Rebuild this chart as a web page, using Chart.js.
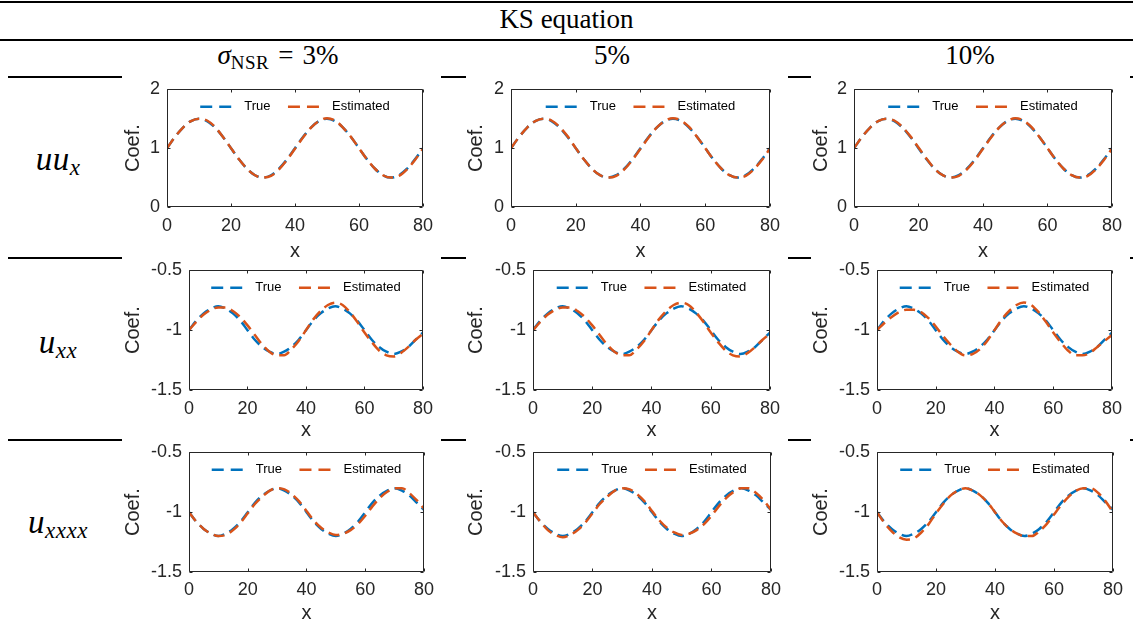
<!DOCTYPE html>
<html>
<head>
<meta charset="utf-8">
<script src="https://cdn.jsdelivr.net/npm/chart.js@4.4.1/dist/chart.umd.min.js"></script>
<style>
  html, body { margin: 0; padding: 0; background: #fff; }
  #page { position: relative; width: 1133px; height: 621px; overflow: hidden; background: #fff; }
  .rule { position: absolute; left: 0; width: 1133px; height: 2px; background: #000; }
  .txt { position: absolute; font-family: "Liberation Serif", "Times New Roman", serif; color: #000; white-space: nowrap; }
  .it { font-style: italic; }
  .cell { position: absolute; background: #fff; }
  .cell canvas { display: block; }
</style>
</head>
<body>
<div id="page">
  <div class="rule" style="top:1px"></div>
  <div class="txt" style="left:0; width:1133px; text-align:center; top:6px; font-size:27px; line-height:27px;">KS equation</div>
  <div class="rule" style="top:39px"></div>

  <div class="txt" style="left:128px; width:300px; text-align:center; top:42px; font-size:27px; line-height:27px;"><span class="it">σ</span><span style="font-size:19px; letter-spacing:0.5px; position:relative; top:5px;">NSR</span><span style="margin:0 9px;">=</span>3%</div>
  <div class="txt" style="left:462px; width:300px; text-align:center; top:42px; font-size:27px; line-height:27px;">5%</div>
  <div class="txt" style="left:820px; width:300px; text-align:center; top:42px; font-size:27px; line-height:27px;">10%</div>

  <div class="rule" style="top:76px; left:8px; width:1125px"></div>
  <div class="rule" style="top:257px; left:8px; width:1125px"></div>
  <div class="rule" style="top:439px; left:8px; width:1125px"></div>

  <div class="txt it" style="left:0; width:116px; text-align:center; top:143px; font-size:33px; line-height:33px; letter-spacing:0.5px;">uu<span style="font-size:23px; position:relative; top:5px;">x</span></div>
  <div class="txt it" style="left:0; width:116px; text-align:center; top:326px; font-size:33px; line-height:33px; letter-spacing:0.5px;">u<span style="font-size:23px; position:relative; top:5px;">xx</span></div>
  <div class="txt it" style="left:0; width:116px; text-align:center; top:506px; font-size:33px; line-height:33px; letter-spacing:0.5px;">u<span style="font-size:23px; position:relative; top:5px;">xxxx</span></div>
</div>

<script>
// sample positions along x
const xs = [0, 2.5, 5, 7.5, 10, 12.5, 15, 17.5, 20, 22.5, 25, 27.5, 30, 32.5, 35, 37.5,
            40, 42.5, 45, 47.5, 50, 52.5, 55, 57.5, 60, 62.5, 65, 67.5, 70, 72.5, 75, 77.5, 80];

// uu_x coefficient
const trueUUx = [1.00, 1.19, 1.35, 1.46, 1.50, 1.46, 1.35, 1.19, 1.00, 0.81, 0.65, 0.54, 0.50, 0.54, 0.65, 0.81,
                 1.00, 1.19, 1.35, 1.46, 1.50, 1.46, 1.35, 1.19, 1.00, 0.81, 0.65, 0.54, 0.50, 0.54, 0.65, 0.81, 1.00];
const estUUx3 = [1.00, 1.19, 1.35, 1.46, 1.50, 1.47, 1.36, 1.19, 1.00, 0.81, 0.65, 0.54, 0.50, 0.53, 0.64, 0.80,
                 0.99, 1.18, 1.35, 1.46, 1.51, 1.47, 1.35, 1.19, 1.00, 0.81, 0.65, 0.54, 0.50, 0.53, 0.64, 0.80, 0.99];
const estUUx5 = [1.00, 1.19, 1.35, 1.46, 1.50, 1.47, 1.36, 1.20, 1.00, 0.81, 0.65, 0.54, 0.50, 0.53, 0.64, 0.80,
                 0.99, 1.18, 1.35, 1.46, 1.51, 1.47, 1.36, 1.19, 1.00, 0.81, 0.65, 0.54, 0.50, 0.53, 0.64, 0.80, 0.99];
const estUUx10 = [1.00, 1.19, 1.35, 1.46, 1.50, 1.47, 1.36, 1.20, 1.01, 0.82, 0.65, 0.54, 0.50, 0.53, 0.64, 0.80,
                  0.99, 1.18, 1.35, 1.46, 1.51, 1.47, 1.36, 1.19, 1.00, 0.81, 0.65, 0.54, 0.50, 0.53, 0.64, 0.80, 0.99];

// u_xx coefficient
const trueUxx = [-1.00, -0.92, -0.86, -0.82, -0.80, -0.82, -0.86, -0.92, -1.00, -1.08, -1.14, -1.18, -1.20, -1.18, -1.14, -1.08,
                 -1.00, -0.92, -0.86, -0.82, -0.80, -0.82, -0.86, -0.92, -1.00, -1.08, -1.14, -1.18, -1.20, -1.18, -1.14, -1.08, -1.02];
const estUxx3 = [-1.00, -0.93, -0.87, -0.83, -0.81, -0.81, -0.84, -0.89, -0.96, -1.04, -1.12, -1.18, -1.21, -1.21, -1.16, -1.09,
                 -1.00, -0.91, -0.84, -0.79, -0.77, -0.79, -0.85, -0.93, -1.02, -1.10, -1.17, -1.21, -1.22, -1.19, -1.14, -1.08, -1.03];
const estUxx5 = [-1.00, -0.93, -0.87, -0.83, -0.81, -0.81, -0.84, -0.89, -0.96, -1.04, -1.12, -1.18, -1.21, -1.21, -1.16, -1.09,
                 -1.00, -0.91, -0.84, -0.79, -0.77, -0.79, -0.85, -0.93, -1.02, -1.10, -1.17, -1.21, -1.22, -1.19, -1.14, -1.08, -1.03];
const estUxx10 = [-1.00, -0.94, -0.89, -0.85, -0.83, -0.83, -0.85, -0.90, -0.97, -1.05, -1.12, -1.18, -1.21, -1.20, -1.16, -1.09,
                  -1.00, -0.91, -0.84, -0.79, -0.77, -0.79, -0.85, -0.93, -1.02, -1.10, -1.17, -1.21, -1.21, -1.19, -1.14, -1.09, -1.04];

// u_xxxx coefficient
const trueUxxxx = [-1.00, -1.08, -1.14, -1.18, -1.20, -1.18, -1.14, -1.08, -1.00, -0.92, -0.86, -0.82, -0.80, -0.82, -0.86, -0.92,
                   -1.00, -1.08, -1.14, -1.18, -1.20, -1.18, -1.14, -1.08, -1.00, -0.92, -0.86, -0.82, -0.80, -0.82, -0.86, -0.92, -0.98];
const estUxxxx3 = [-1.00, -1.08, -1.14, -1.18, -1.20, -1.19, -1.15, -1.09, -1.01, -0.93, -0.87, -0.82, -0.80, -0.81, -0.85, -0.91,
                   -0.99, -1.07, -1.13, -1.17, -1.19, -1.18, -1.15, -1.10, -1.03, -0.95, -0.88, -0.83, -0.80, -0.80, -0.84, -0.90, -0.97];
const estUxxxx5 = [-1.00, -1.08, -1.15, -1.19, -1.21, -1.19, -1.15, -1.09, -1.01, -0.93, -0.87, -0.82, -0.80, -0.81, -0.85, -0.91,
                   -0.99, -1.07, -1.13, -1.17, -1.19, -1.18, -1.15, -1.10, -1.03, -0.95, -0.88, -0.83, -0.80, -0.80, -0.84, -0.90, -0.98];
const estUxxxx10 = [-1.00, -1.09, -1.16, -1.21, -1.23, -1.22, -1.17, -1.10, -1.01, -0.93, -0.86, -0.82, -0.80, -0.82, -0.86, -0.92,
                    -1.00, -1.08, -1.14, -1.18, -1.20, -1.20, -1.16, -1.10, -1.02, -0.94, -0.87, -0.82, -0.80, -0.80, -0.84, -0.91, -1.00];

const seriesNames = ['True', 'Estimated'];
const xTicks = [0, 20, 40, 60, 80];
const xTickLabels = ['0', '20', '40', '60', '80'];
const yTicksUUx = [0, 1, 2];
const yTickLabelsUUx = ['0', '1', '2'];
const yTicksNeg = [-1.5, -1, -0.5];
const yTickLabelsNeg = ['-1.5', '-1', '-0.5'];

const BLUE = '#0072BD';
const ORANGE = '#D95319';
const AXIS = '#262626';
const SANS = '"Liberation Sans", Arial, Helvetica, sans-serif';
const LINE_WIDTH = 2.5;
const DASH = [11, 6];
const LEGEND_DASH = [12, 7];

// box frame with inward tick marks on all four sides
const boxTicks = {
  id: 'boxTicks',
  afterDatasetsDraw(chart) {
    const { ctx, chartArea: a, scales } = chart;
    const L = Math.round(a.left) + 0.5, R = Math.round(a.right) - 0.5;
    const T = Math.round(a.top) + 0.5, B = Math.round(a.bottom) - 0.5;
    const len = 3;
    ctx.save();
    ctx.strokeStyle = AXIS;
    ctx.lineWidth = 1;
    ctx.setLineDash([]);
    ctx.beginPath();
    ctx.rect(L, T, R - L, B - T);
    scales.x.ticks.forEach(t => {
      const p = Math.round(scales.x.getPixelForValue(t.value)) + 0.5;
      ctx.moveTo(p, B); ctx.lineTo(p, B - len);
      ctx.moveTo(p, T); ctx.lineTo(p, T + len);
    });
    scales.y.ticks.forEach(t => {
      const p = Math.round(scales.y.getPixelForValue(t.value)) + 0.5;
      ctx.moveTo(L, p); ctx.lineTo(L + len, p);
      ctx.moveTo(R, p); ctx.lineTo(R - len, p);
    });
    ctx.stroke();
    ctx.restore();
  }
};

// the legend takes no layout height; let it draw over the top of the plot box
const legendInside = {
  id: 'legendInside',
  afterLayout(chart) {
    const lg = chart.legend;
    if (lg) {
      lg.bottom = chart.chartArea.bottom;
      lg.height = lg.bottom - lg.top;
    }
  }
};

// cell geometry: columns and rows of the table
const columns = [
  { left: 122, width: 319, areaRight: 427, areaLeftNarrow: 167, areaLeftWide: 189, titleX: 133.5 },
  { left: 466, width: 322, areaRight: 771, areaLeftNarrow: 511, areaLeftWide: 533, titleX: 476.5 },
  { left: 811, width: 319, areaRight: 1114, areaLeftNarrow: 854, areaLeftWide: 877, titleX: 821.5 }
];
const rows = [
  { top: 76,  areaTop: 84,  areaBottom: 207, titleMid: 251, tickPad: 8, wide: false, z: 1 },
  { top: 257, areaTop: 266, areaBottom: 390, titleMid: 430, tickPad: 8, wide: true,  z: 2 },
  { top: 439, areaTop: 448, areaBottom: 572, titleMid: 613, tickPad: 7, wide: true,  z: 3 }
];

const panels = [
  [ [trueUUx, estUUx3], [trueUUx, estUUx5], [trueUUx, estUUx10] ],
  [ [trueUxx, estUxx3], [trueUxx, estUxx5], [trueUxx, estUxx10] ],
  [ [trueUxxxx, estUxxxx3], [trueUxxxx, estUxxxx5], [trueUxxxx, estUxxxx10] ]
];
const yAxes = [
  { min: 0, max: 2, ticks: yTicksUUx, labels: yTickLabelsUUx },
  { min: -1.5, max: -0.5, ticks: yTicksNeg, labels: yTickLabelsNeg },
  { min: -1.5, max: -0.5, ticks: yTicksNeg, labels: yTickLabelsNeg }
];

// order: higher values are drawn first, so the estimate sits on top of the true curve
function makeDataset(label, values, color, order) {
  return {
    label,
    order,
    data: xs.map((x, i) => ({ x, y: values[i] })),
    borderColor: color,
    backgroundColor: color,
    borderWidth: LINE_WIDTH,
    borderDash: DASH,
    borderCapStyle: 'butt',
    pointRadius: 0,
    cubicInterpolationMode: 'monotone',
    fill: false
  };
}

const page = document.getElementById('page');

rows.forEach((row, r) => {
  columns.forEach((col, c) => {
    const areaLeft = row.wide ? col.areaLeftWide : col.areaLeftNarrow;
    const height = Math.round(row.titleMid + 10 - row.top);
    const xAxisHeight = height - (row.areaBottom - row.top);
    const yAxisWidth = areaLeft - col.left;
    const yTitlePad = (col.titleX - col.left) - 10;

    const cell = document.createElement('div');
    cell.className = 'cell';
    cell.style.left = col.left + 'px';
    cell.style.top = row.top + 'px';
    cell.style.width = col.width + 'px';
    cell.style.height = height + 'px';
    cell.style.zIndex = row.z;
    const cv = document.createElement('canvas');
    cv.width = col.width;
    cv.height = height;
    cell.appendChild(cv);
    page.appendChild(cell);

    const [tv, ev] = panels[r][c];
    const ya = yAxes[r];

    new Chart(cv, {
      type: 'line',
      data: {
        datasets: [
          makeDataset(seriesNames[0], tv, BLUE, 1),
          makeDataset(seriesNames[1], ev, ORANGE, 0)
        ]
      },
      options: {
        responsive: false,
        animation: false,
        devicePixelRatio: 1,
        events: [],
        layout: { padding: { left: 0, right: col.left + col.width - col.areaRight, top: row.areaTop - row.top, bottom: 0 } },
        scales: {
          x: {
            type: 'linear', min: 0, max: 80,
            afterBuildTicks: s => { s.ticks = xTicks.map(v => ({ value: v })); },
            afterFit: s => { s.height = xAxisHeight; },
            ticks: {
              autoSkip: false, maxRotation: 0, padding: row.tickPad,
              color: AXIS, font: { family: SANS, size: 18 },
              callback: v => xTickLabels[xTicks.indexOf(v)]
            },
            grid: { display: false, drawTicks: false },
            border: { display: false },
            title: { display: true, text: 'x', color: AXIS, padding: 0, font: { family: SANS, size: 20, lineHeight: 1 } }
          },
          y: {
            type: 'linear', min: ya.min, max: ya.max,
            afterBuildTicks: s => { s.ticks = ya.ticks.map(v => ({ value: v })); },
            afterFit: s => { s.width = yAxisWidth; },
            ticks: {
              autoSkip: false, padding: 7,
              color: AXIS, font: { family: SANS, size: 18, lineHeight: 0.7 },
              callback: v => ya.labels[ya.ticks.indexOf(v)]
            },
            grid: { display: false, drawTicks: false },
            border: { display: false },
            title: { display: true, text: 'Coef.', color: AXIS, padding: { top: yTitlePad, bottom: 0 }, font: { family: SANS, size: 20, lineHeight: 1 } }
          }
        },
        plugins: {
          tooltip: { enabled: false },
          legend: {
            display: true,
            position: 'top',
            align: 'center',
            fullSize: false,
            maxHeight: 0.01,
            labels: {
              usePointStyle: true,
              pointStyle: 'line',
              pointStyleWidth: 31,
              padding: 11,
              color: '#000',
              font: { family: SANS, size: 13 },
              generateLabels: chart => Chart.defaults.plugins.legend.labels.generateLabels(chart)
                .sort((a, b) => a.datasetIndex - b.datasetIndex)
                .map((it, i) => {
                  const ds = chart.data.datasets[it.datasetIndex];
                  it.text = '\u2002' + it.text + (i === 0 ? '\u2002' : '');
                  it.strokeStyle = ds.borderColor;
                  it.lineWidth = ds.borderWidth;
                  it.lineDash = LEGEND_DASH;
                  it.lineCap = 'butt';
                  return it;
                })
            }
          }
        }
      },
      plugins: [boxTicks, legendInside]
    });
  });
});
</script>
</body>
</html>
